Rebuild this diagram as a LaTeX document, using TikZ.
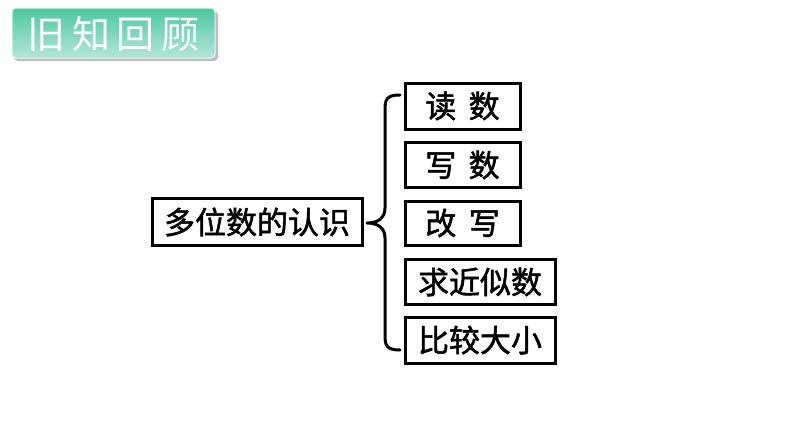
\documentclass[tikz,border=0pt]{standalone}
\usepackage{fontspec}
\newfontfamily\cjk{Noto Sans CJK SC}
\newfontfamily\cjkb{Noto Sans CJK SC}[FakeBold=1.6]
\usetikzlibrary{shadows}
\definecolor{bantop}{HTML}{4CC8A0}
\definecolor{banbot}{HTML}{B5E5DA}
\tikzset{
  px/.style={x=1pt,y=-1pt},
  box/.style={draw=black,line width=3pt,fill=white},
  lbl/.style={font=\cjkb\fontsize{31}{31}\selectfont,text=black,inner sep=0pt},
  brace/.style={draw=black,line width=3pt,line cap=round,line join=round}
}
\begin{document}
\begin{tikzpicture}[px]
\useasboundingbox (0,0) rectangle (794,447);
\fill[white] (0,0) rectangle (794,447);
% banner
\fill[black!25,rounded corners=4pt] (14,11) rectangle (218,61);
\shade[top color=bantop,bottom color=banbot,rounded corners=4pt,draw=white!85!bantop,line width=1pt] (12,8) rectangle (215,58);
\node[font=\cjk\fontsize{38}{38}\selectfont,text=white,inner sep=0pt] (title) at (113.5,34) {旧\,知\,回\,顾};
% main box
\draw[box] (152,198) rectangle (362,245);
\node[lbl] (main) at (257,222) {多位数的认识};
% right boxes
\draw[box] (405,83) rectangle (520,129);
\node[lbl] (b1) at (462.5,106) {读\hspace{0.4em}数};
\draw[box] (405,142) rectangle (520,187);
\node[lbl] (b2) at (462.5,165) {写\hspace{0.4em}数};
\draw[box] (405,201) rectangle (520,245);
\node[lbl] (b3) at (462.5,223) {改\hspace{0.4em}写};
\draw[box] (405,259) rectangle (555,304);
\node[lbl] (b4) at (480,282) {求近似数};
\draw[box] (405,317) rectangle (555,363);
\node[lbl] (b5) at (480,340) {比较大小};
% brace
\coordinate (bt) at (400,95);
\coordinate (bb) at (400,350);
\coordinate (tip) at (367,223);
\draw[brace] (bt) .. controls (386,95) and (385,100) .. (385,110) -- (385,208)
  .. controls (385,218) and (378,223) .. (tip)
  .. controls (378,223) and (385,228) .. (385,238) -- (385,335)
  .. controls (385,345) and (386,350) .. (bb);
\end{tikzpicture}
\end{document}
